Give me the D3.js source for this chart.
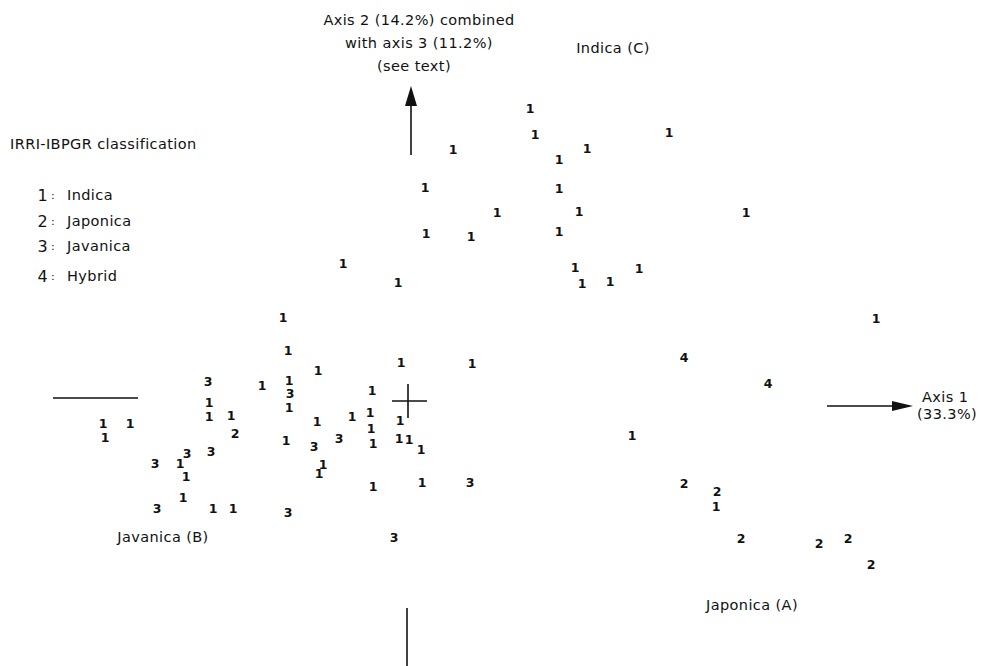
<!DOCTYPE html>
<html>
<head>
<meta charset="utf-8">
<script src="https://cdn.jsdelivr.net/npm/d3@7"></script>
<style>
  body { margin: 0; background: #fff; }
  text { font-family: "DejaVu Sans", "Noto Sans", sans-serif; fill: #111; }
</style>
</head>
<body>
<div id="chart"></div>
<script>
// scores on axis 1 (x) and combined axis 2/3 (y), one array per group
const indica = [
  [1.22, 2.93], [1.27, 2.67], [0.45, 2.52], [1.79, 2.53], [1.51, 2.42], [2.61, 2.69],
  [0.17, 2.14], [1.51, 2.13], [0.89, 1.89], [1.71, 1.90], [0.18, 1.68], [0.63, 1.65],
  [1.51, 1.70], [3.38, 1.89], [-0.65, 1.38], [-0.10, 1.19], [1.67, 1.34], [1.74, 1.18],
  [2.02, 1.20], [2.31, 1.33], [4.68, 0.83], [-1.25, 0.84], [-1.20, 0.51], [-0.90, 0.31],
  [-1.46, 0.16], [-1.19, 0.21], [-1.19, -0.06], [-0.07, 0.39], [0.64, 0.38], [-0.36, 0.11],
  [-0.91, -0.20], [-0.56, -0.15], [-0.38, -0.11], [-0.08, -0.19], [-1.22, -0.39],
  [-0.37, -0.27], [-0.35, -0.42], [-0.09, -0.37], [0.01, -0.38], [0.13, -0.48],
  [-0.85, -0.63], [-0.89, -0.72], [-0.35, -0.85], [0.14, -0.81], [2.24, -0.34], [3.08, -1.05],
  [-3.05, -0.22], [-2.78, -0.22], [-3.03, -0.36], [-1.99, -0.01], [-1.99, -0.15],
  [-1.77, -0.14], [-2.28, -0.62], [-2.22, -0.75], [-2.25, -0.96], [-1.95, -1.07], [-1.75, -1.07]
];
const japonica = [
  [-1.73, -0.32], [2.76, -0.82], [3.09, -0.90], [3.33, -1.37], [4.11, -1.42], [4.40, -1.37], [4.63, -1.63]
];
const javanica = [
  [-2.00, 0.20], [-2.21, -0.52], [-1.97, -0.50], [-2.53, -0.62], [-2.51, -1.07], [-1.18, 0.08],
  [-0.94, -0.45], [-0.69, -0.37], [0.62, -0.81], [-1.20, -1.11], [-0.14, -1.36]
];
const hybrid = [[2.76, 0.44], [3.60, 0.18]];

const groupCodes = ["1", "2", "3", "4"];
const groupNames = ["Indica", "Japonica", "Javanica", "Hybrid"];

const width = 987, height = 666;

const svg = d3.select("#chart").append("svg")
  .attr("width", width)
  .attr("height", height);

// 1 unit = 100px, origin at the cross
const x = d3.scaleLinear().domain([-4, 6]).range([8, 1008]);
const y = d3.scaleLinear().domain([-3, 4]).range([701, 1]);

// points drawn as their group number
const groups = [indica, japonica, javanica, hybrid];
groups.forEach((pts, gi) => {
  svg.append("g")
    .selectAll("text")
    .data(pts)
    .enter()
    .append("text")
    .attr("x", d => x(d[0]))
    .attr("y", d => y(d[1]))
    .attr("text-anchor", "middle")
    .attr("dy", "0.36em")
    .style("font-size", "12.5px")
    .style("font-weight", "bold")
    .text(groupCodes[gi]);
});

const line = (x1, y1, x2, y2) =>
  svg.append("line")
    .attr("x1", x(x1)).attr("y1", y(y1))
    .attr("x2", x(x2)).attr("y2", y(y2))
    .attr("stroke", "#111")
    .attr("stroke-width", 1.6);

// centre cross
line(-0.16, 0, 0.19, 0);
line(0, 0.17, 0, -0.17);

// axis 2 arrow (up)
line(0.03, 2.46, 0.03, 3.0);
svg.append("path")
  .attr("d", `M${x(0.03)},${y(3.15)} L${x(0.03) - 6},${y(2.95)} L${x(0.03) + 6},${y(2.95)} Z`)
  .attr("fill", "#111");

// axis 1 arrow (right)
line(4.19, -0.05, 4.85, -0.05);
svg.append("path")
  .attr("d", `M${x(5.05)},${y(-0.05)} L${x(4.84)},${y(-0.05) - 5} L${x(4.84)},${y(-0.05) + 5} Z`)
  .attr("fill", "#111");

// left and bottom stubs
line(-3.55, 0.03, -2.70, 0.03);
line(-0.01, -2.07, -0.01, -2.66);

// axis titles
const label = (tx, ty, str, anchor, size) =>
  svg.append("text")
    .attr("x", tx).attr("y", ty)
    .attr("text-anchor", anchor || "middle")
    .attr("dy", "0.36em")
    .style("font-size", (size || 14.5) + "px")
    .style("letter-spacing", "0.4px")
    .text(str);

label(419, 20, "Axis 2 (14.2%) combined");
label(419, 43, "with axis 3 (11.2%)");
label(414, 66, "(see text)");
label(922, 397, "Axis 1", "start");
label(917, 414, "(33.3%)", "start");

// group region labels
label(613, 48, "Indica (C)");
label(163, 537, "Javanica (B)");
label(752, 605, "Japonica (A)");

// legend
label(10, 144, "IRRI-IBPGR classification", "start");
const legendY = [195, 221, 246, 276];
groupCodes.forEach((c, i) => {
  label(48, legendY[i], c, "end", 16);
  label(53, legendY[i], ":", "middle", 11);
  label(67, legendY[i], groupNames[i], "start");
});
</script>
</body>
</html>
